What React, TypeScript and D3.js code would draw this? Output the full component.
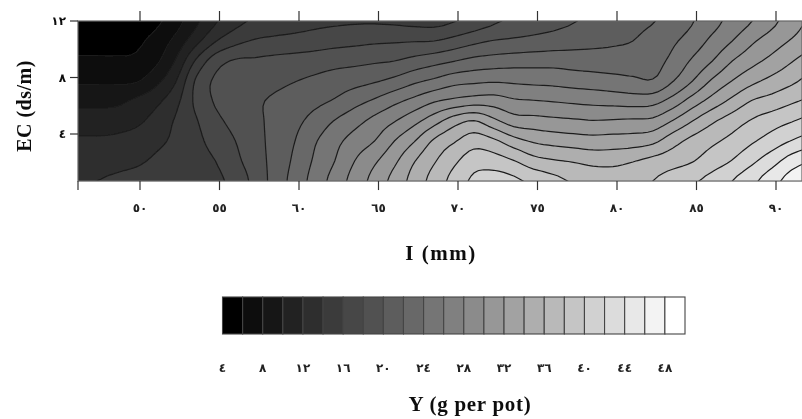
import React, { useMemo } from "react";
import * as d3 from "d3";

const width = 802;
const height = 419;

// grid: I every 1.25 mm from 46, one list of Y per EC row
const irrigationStart = 46;
const irrigationStep = 1.25;
const ecRows = [12, 10.58, 9.17, 7.75, 6.34, 4.92, 3.5, 2.09, 0.67];

const yAtEc12 = [4.5, 4.5, 4.7, 5, 5.6, 7.2, 9.5, 11.8, 13.4, 14.3, 14.8, 15.2, 15.5, 15.7, 15.8, 15.8, 15.7, 15.5, 15.4, 15.9, 16.8, 17.7, 18.4, 18.9, 19.4, 19.9, 20.4, 20.9, 21.4, 21.9, 22.8, 23.9, 25.3, 26.7, 28, 29.5, 31, 32.4];
const yAtEc106 = [5.3, 5.3, 5.3, 5.6, 6.7, 8.6, 11.3, 13.9, 15.4, 16.2, 16.5, 16.7, 17, 17.3, 17.5, 17.7, 17.8, 17.9, 18, 18.7, 19.5, 20.1, 20.36, 20.63, 20.9, 21.2, 21.45, 21.7, 22, 22.85, 23.7, 24.9, 26.5, 28, 29.7, 31, 32.2, 33.3];
const yAtEc92 = [6.3, 6.3, 6.3, 6.4, 7.6, 10.2, 14.2, 17.1, 18.2, 18.3, 18.55, 18.8, 19, 19.3, 19.5, 19.75, 20, 20.66, 21.3, 21.95, 22.6, 22.9, 23.1, 23.2, 23.25, 23.1, 23, 22.95, 23.05, 23.3, 24.5, 26.3, 28, 30, 31.4, 32.6, 33.9, 35];
const yAtEc78 = [7.7, 7.7, 7.7, 7.8, 9.4, 11.9, 16.2, 18.3, 18.7, 19.1, 19.5, 19.95, 20.4, 20.9, 21.3, 21.8, 22.55, 23.6, 24.4, 25.3, 25.6, 25.8, 25.66, 25.5, 25.4, 25.15, 24.95, 24.7, 24.4, 24.15, 25.9, 28, 30.3, 32.05, 33.5, 34.6, 35.6, 36.7];
const yAtEc63 = [9.4, 9.4, 9.5, 10.4, 11.5, 13.4, 16.4, 18.2, 18.9, 19.7, 20.3, 20.9, 21.5, 22.2, 23.3, 24.3, 25.5, 26.6, 27.8, 28.5, 29, 29, 28.3, 28.1, 27.9, 27.65, 27.45, 27.3, 27.1, 27.3, 28.8, 30.9, 32.8, 34.5, 36.1, 36.8, 37.7, 38.4];
const yAtEc49 = [11, 11, 11.2, 11.6, 12.7, 14.2, 15.8, 17.5, 18.6, 19.6, 20.5, 21.5, 22.7, 24.1, 25.3, 26.6, 27.9, 29.4, 31.2, 33.1, 34.1, 32.5, 31, 30.76, 30.5, 30.3, 30.1, 30.2, 30.35, 30.5, 32.1, 34, 35.7, 37, 38.2, 39.1, 39.9, 40.7];
const yAtEc35 = [12.3, 12.3, 12.4, 12.8, 13.55, 14.4, 15.5, 16.7, 18, 19.3, 20.7, 22, 23.8, 25.4, 26.8, 28, 30, 31.9, 34.3, 35.8, 37.1, 36.4, 34.8, 33.75, 33.3, 33, 32.8, 32.9, 33, 33.5, 35.2, 36.6, 37.6, 38.6, 39.75, 40.9, 42.1, 43];
const yAtEc21 = [13.2, 13.2, 13.4, 13.7, 14.3, 14.9, 15.45, 16, 17.5, 19.1, 20.7, 22.4, 24.3, 26, 28, 29.7, 31.6, 33.9, 35.8, 37.6, 39.1, 38.95, 38.1, 36.75, 36.2, 35.85, 35.4, 35.4, 35.9, 36.6, 37.2, 37.9, 39, 40.1, 41.6, 43.2, 45, 46];
const yAtEc07 = [13.9, 14, 14.3, 14.6, 14.9, 15.2, 15.4, 15.6, 16.7, 18.7, 20.8, 22.8, 24.8, 26.8, 28.8, 30.7, 32.7, 34.8, 36.8, 38.7, 40.4, 40.9, 40.4, 39.5, 38.6, 37.8, 37.4, 37.2, 37.5, 38, 38.9, 39.7, 40.7, 42, 43.5, 45.2, 46.9, 47.5];
const yGrid = [yAtEc12, yAtEc106, yAtEc92, yAtEc78, yAtEc63, yAtEc49, yAtEc35, yAtEc21, yAtEc07];

const levels = d3.range(4, 52, 2);
const xTicks = [50, 55, 60, 65, 70, 75, 80, 85, 90];
const xTickLabels = ["٥٠", "٥٥", "٦٠", "٦٥", "٧٠", "٧٥", "٨٠", "٨٥", "٩٠"];
const yTicks = [4, 8, 12];
const yTickLabels = ["٤", "٨", "١٢"];
const legendTicks = [4, 8, 12, 16, 20, 24, 28, 32, 36, 40, 44, 48];
const legendLabels = ["٤", "٨", "١٢", "١٦", "٢٠", "٢٤", "٢٨", "٣٢", "٣٦", "٤٠", "٤٤", "٤٨"];

const SERIF = "'Liberation Serif', serif";
const DIGITS = "'DejaVu Sans', sans-serif";
const REFINE = 4;

// Catmull-Rom through the read values, only so the contour lines come out round
function cubic(p0: number, p1: number, p2: number, p3: number, t: number) {
  return (
    0.5 *
    (2 * p1 +
      (p2 - p0) * t +
      (2 * p0 - 5 * p1 + 4 * p2 - p3) * t * t +
      (3 * p1 - p0 - 3 * p2 + p3) * t * t * t)
  );
}

function refineLine(values: number[]) {
  const out: number[] = [];
  const last = values.length - 1;
  for (let i = 0; i < last; i++) {
    for (let k = 0; k < REFINE; k++) {
      out.push(
        cubic(values[Math.max(i - 1, 0)], values[i], values[i + 1], values[Math.min(i + 2, last)], k / REFINE)
      );
    }
  }
  out.push(values[last]);
  return out;
}

function refineGrid(grid: number[][]) {
  const wide = grid.map(refineLine);
  const cols = d3.transpose(wide).map(refineLine);
  return d3.transpose(cols) as number[][];
}

export default function App() {
  const x = d3.scaleLinear().domain([50, 90]).range([140, 776]);
  const y = d3.scaleLinear().domain([4, 12]).range([134, 21]);
  const legendX = d3.scaleLinear().domain([4, 50]).range([222.5, 685]);
  const grey = d3.scaleLinear<number>().domain([4, 48]).range([0, 255]);
  const fill = (level: number) => {
    const v = Math.round(grey(level));
    return `rgb(${v},${v},${v})`;
  };

  const left = 78;
  const right = 802;
  const top = y(12);
  const bottom = y(ecRows[ecRows.length - 1]);

  const bands = useMemo(() => {
    const fine = refineGrid(yGrid);
    return d3.contours().size([fine[0].length, fine.length]).thresholds(levels)(fine.flat());
  }, []);

  // contour coords have grid nodes at i + 0.5
  const ecStep = (ecRows[ecRows.length - 1] - ecRows[0]) / (ecRows.length - 1);
  const path = d3.geoPath(
    d3.geoTransform({
      point(px: number, py: number) {
        const I = irrigationStart + ((px - 0.5) * irrigationStep) / REFINE;
        const ec = ecRows[0] + ((py - 0.5) * ecStep) / REFINE;
        this.stream.point(x(I), y(ec));
      },
    })
  );

  return (
    <svg
      width={width}
      height={height}
      viewBox={`0 0 ${width} ${height}`}
      style={{ position: "absolute", left: 0, top: 0, background: "#fff" }}
    >
      <defs>
        <clipPath id="plot">
          <rect x={left} y={top} width={right - left} height={bottom - top} />
        </clipPath>
        <filter id="soft" x="0" y="0" width="100%" height="100%">
          <feGaussianBlur stdDeviation="0.5" />
        </filter>
      </defs>

      <g filter="url(#soft)">
        <rect x={left} y={top} width={right - left} height={bottom - top} fill="#000" />
        <g clipPath="url(#plot)">
          {bands.map((b) => (
            <path key={b.value} d={path(b) ?? ""} fill={fill(b.value)} />
          ))}
          {bands.slice(1).map((b) => (
            <path key={b.value} d={path(b) ?? ""} fill="none" stroke="#1c1c1c" strokeWidth={1.2} />
          ))}
        </g>
        <rect x={left} y={top} width={right - left} height={bottom - top} fill="none" stroke="#666" strokeWidth={1.2} />

        {xTicks.map((t, i) => (
          <g key={t} stroke="#333" strokeWidth={1.2}>
            <line x1={x(t)} x2={x(t)} y1={top - 10} y2={top} />
            <line x1={x(t)} x2={x(t)} y1={bottom} y2={bottom + 9} />
            <text
              x={x(t)}
              y={212}
              textAnchor="middle"
              stroke="none"
              fill="#222"
              fontFamily={DIGITS}
              fontWeight="bold"
              fontSize={12}
              letterSpacing={2}
            >
              {xTickLabels[i]}
            </text>
          </g>
        ))}
        <line x1={left} x2={left} y1={bottom} y2={bottom + 9} stroke="#333" strokeWidth={1.2} />

        {yTicks.map((t, i) => (
          <g key={t}>
            <line x1={left - 8} x2={left} y1={y(t)} y2={y(t)} stroke="#333" strokeWidth={1.2} />
            <text
              x={left - 12}
              y={y(t) + 4}
              textAnchor="end"
              fill="#111"
              fontFamily={DIGITS}
              fontWeight="bold"
              fontSize={12}
              letterSpacing={2}
            >
              {yTickLabels[i]}
            </text>
          </g>
        ))}

        <text
          transform="translate(31,106) rotate(-90)"
          textAnchor="middle"
          fontFamily={SERIF}
          fontWeight="bold"
          fontSize={20}
          letterSpacing={0.5}
          fill="#111"
        >
          EC (ds/m)
        </text>
        <text x={441} y={260} textAnchor="middle" fontFamily={SERIF} fontWeight="bold" fontSize={21} letterSpacing={1.5} fill="#111">
          I (mm)
        </text>

        {levels.slice(0, -1).map((lv) => (
          <rect
            key={lv}
            x={legendX(lv)}
            y={297}
            width={legendX(lv + 2) - legendX(lv)}
            height={37}
            fill={fill(lv)}
            stroke="#444"
            strokeWidth={1.1}
          />
        ))}
        {legendTicks.map((t, i) => (
          <text
            key={t}
            x={legendX(t)}
            y={372}
            textAnchor="middle"
            fontFamily={DIGITS}
            fontWeight="bold"
            fontSize={12}
            letterSpacing={2}
            fill="#222"
          >
            {legendLabels[i]}
          </text>
        ))}
        <text x={470} y={411} textAnchor="middle" fontFamily={SERIF} fontWeight="bold" fontSize={21} letterSpacing={0.7} fill="#111">
          Y (g per pot)
        </text>
      </g>
    </svg>
  );
}
